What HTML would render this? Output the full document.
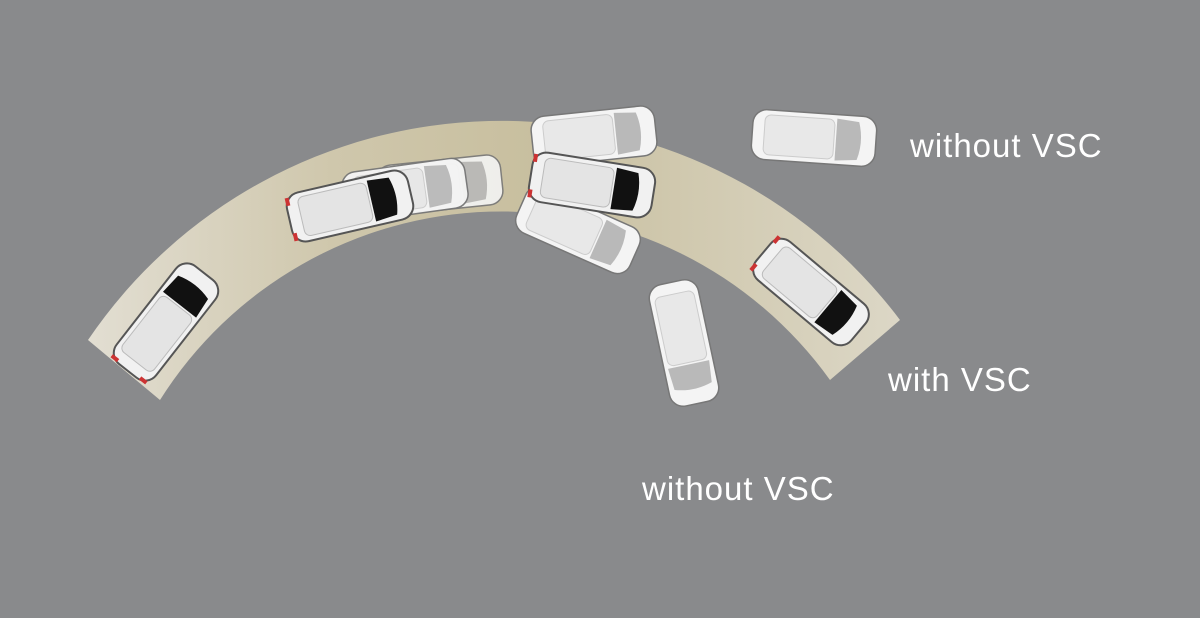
<!DOCTYPE html>
<html><head><meta charset="utf-8"><style>
html,body{margin:0;padding:0;background:#898a8c;}
svg{display:block}
text{font-family:"Liberation Sans",sans-serif;fill:#fff;font-size:33px;letter-spacing:1px}
</style></head><body>
<svg width="1200" height="618" viewBox="0 0 1200 618" xmlns="http://www.w3.org/2000/svg">
<defs>
<linearGradient id="road" x1="0" y1="0" x2="1" y2="0">
<stop offset="0" stop-color="#e2ded2"/>
<stop offset="0.3" stop-color="#cfc7ac"/>
<stop offset="0.55" stop-color="#c8bf9f"/>
<stop offset="1" stop-color="#dcd7c6"/>
</linearGradient>
<g id="carB">
<rect x="-62" y="-25" width="124" height="50" rx="14" fill="#f1f1f1" stroke="#555" stroke-width="2"/>
<rect x="-50" y="-20" width="70" height="40" rx="6" fill="#e4e4e4" stroke="#bbb"/>
<path d="M22,-21 L44,-19 Q50,0 44,19 L22,21 Z" fill="#111"/>
<rect x="-62" y="-22" width="4" height="8" fill="#c33"/><rect x="-62" y="14" width="4" height="8" fill="#c33"/>
</g>
<g id="carL">
<rect x="-62" y="-25" width="124" height="50" rx="14" fill="#f4f4f4" stroke="#777" stroke-width="1.5"/>
<rect x="-50" y="-20" width="70" height="40" rx="6" fill="#e8e8e8" stroke="#ccc"/>
<path d="M22,-21 L44,-19 Q50,0 44,19 L22,21 Z" fill="#b9b9b9"/>
</g>
</defs>
<path d="M88,340 A499,499 0 0 1 900,320 L830,380 A404,404 0 0 0 160,400 Z" fill="url(#road)"/>
<use href="#carL" transform="translate(440,185) rotate(-6)" opacity="0.9"/>
<use href="#carL" transform="translate(405,190) rotate(-8)" opacity="0.95"/>
<use href="#carB" transform="translate(350,206) rotate(-13)"/>
<use href="#carB" transform="translate(166,322) rotate(-52)"/>
<use href="#carL" transform="translate(594,136) rotate(-6)"/>
<use href="#carL" transform="translate(578,230) rotate(24)"/>
<use href="#carB" transform="translate(592,185) rotate(9)"/>
<use href="#carL" transform="translate(684,343) rotate(78)"/>
<use href="#carB" transform="translate(811,292) rotate(40)"/>
<use href="#carL" transform="translate(814,138) rotate(4)"/>
<text x="910" y="157">without VSC</text>
<text x="888" y="391">with VSC</text>
<text x="642" y="500">without VSC</text>
</svg>
</body></html>
